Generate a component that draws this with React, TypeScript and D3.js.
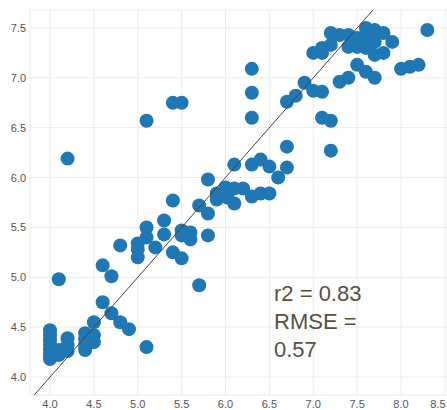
import React from 'react';
import * as d3 from 'd3';

const observed = [
  4.0, 4.0, 4.0, 4.0, 4.0, 4.0, 4.0,
  4.1, 4.1, 4.1,
  4.2, 4.2, 4.2, 4.2,
  4.4, 4.4, 4.4, 4.4,
  4.5, 4.5, 4.5,
  4.6, 4.6, 4.7, 4.7, 4.8, 4.8, 4.9,
  5.0, 5.0, 5.0,
  5.1, 5.1, 5.1, 5.1,
  5.2, 5.3, 5.3,
  5.4, 5.4, 5.4,
  5.5, 5.5, 5.5, 5.5,
  5.6, 5.6, 5.7, 5.7,
  5.8, 5.8, 5.8, 5.9, 5.9,
  6.0, 6.02,
  6.1, 6.1, 6.1, 6.2,
  6.3, 6.3, 6.3, 6.3, 6.3,
  6.4, 6.4, 6.5, 6.5, 6.6,
  6.7, 6.7, 6.7, 6.8, 6.9,
  7.0, 7.0,
  7.1, 7.1, 7.1, 7.1,
  7.2, 7.2, 7.2, 7.2,
  7.3, 7.3,
  7.4, 7.4, 7.4,
  7.5, 7.5, 7.5,
  7.6, 7.6, 7.6, 7.6,
  7.7, 7.7, 7.7, 7.7,
  7.8, 7.8, 7.9,
  8.0, 8.1, 8.2, 8.3,
];
const predicted = [
  4.47, 4.42, 4.37, 4.32, 4.27, 4.22, 4.18,
  4.22, 4.27, 4.98,
  4.39, 4.32, 4.26, 6.19,
  4.44, 4.38, 4.32, 4.27,
  4.42, 4.35, 4.55,
  4.75, 5.12, 4.64, 5.01, 4.55, 5.32, 4.48,
  5.34, 5.28, 5.2,
  5.5, 5.4, 4.3, 6.57,
  5.3, 5.57, 5.43,
  5.25, 5.77, 6.75,
  5.19, 5.47, 5.42, 6.75,
  5.45, 5.38, 4.92, 5.72,
  5.64, 5.42, 5.98, 5.84, 5.78,
  5.9, 5.8,
  5.89, 5.74, 6.13, 5.89,
  5.81, 6.13, 6.6, 6.85, 7.09,
  5.84, 6.18, 5.84, 6.11, 6.0,
  6.1, 6.31, 6.76, 6.82, 6.95,
  6.87, 7.25,
  6.86, 6.6, 7.3, 7.25,
  6.57, 6.27, 7.45, 7.33,
  6.96, 7.43,
  7.0, 7.43, 7.31,
  7.13, 7.4, 7.31,
  7.06, 7.5, 7.38, 7.3,
  7.0, 7.48, 7.36, 7.23,
  7.45, 7.25, 7.36,
  7.09, 7.11, 7.13, 7.48,
];
const xTicks = [4.0, 4.5, 5.0, 5.5, 6.0, 6.5, 7.0, 7.5, 8.0, 8.5];
const yTicks = [4.0, 4.5, 5.0, 5.5, 6.0, 6.5, 7.0, 7.5];
const statLines = ['r2 = 0.83', 'RMSE =', '0.57'];

const width = 447;
const height = 410;
const plot = { left: 30, right: 447, top: 10, bottom: 395 };

const App = () => {
  const x = d3.scaleLinear().domain([3.772, 8.524]).range([plot.left, plot.right]);
  const y = d3.scaleLinear().domain([3.82, 7.68]).range([plot.bottom, plot.top]);

  const points = observed.map((o, i) => ({ o, p: predicted[i] }));
  const diag = d3.line<number>().x(d => x(d)).y(d => y(d));

  return (
    <div style={{ position: 'absolute', left: 0, top: 0 }}>
      <svg width={width} height={height} style={{ display: 'block', fontFamily: '"Liberation Sans", Arial, sans-serif' }}>
        <rect x={0} y={0} width={width} height={height} fill="#fff" />
        {/* grid */}
        <g stroke="#ececec" strokeWidth={1}>
          {xTicks.map(t => (
            <line key={'gx' + t} x1={x(t)} x2={x(t)} y1={plot.top} y2={plot.bottom} />
          ))}
          {yTicks.map(t => (
            <line key={'gy' + t} x1={plot.left} x2={plot.right} y1={y(t)} y2={y(t)} />
          ))}
          <line x1={plot.left} x2={plot.left} y1={plot.top} y2={plot.bottom} />
          <line x1={plot.left} x2={plot.right} y1={plot.top} y2={plot.top} />
          <line x1={plot.left} x2={plot.right} y1={plot.bottom} y2={plot.bottom} />
        </g>
        {/* points */}
        <g fill="#1f77b4">
          {points.map((d, i) => (
            <circle key={i} cx={x(d.o)} cy={y(d.p)} r={7} />
          ))}
        </g>
        {/* 1:1 line */}
        <path d={diag([3.82, 7.68]) || ''} stroke="#444" strokeWidth={1} fill="none" />
        {/* tick labels */}
        <g fontSize={11} fill="#555">
          {xTicks.map(t => (
            <text key={'tx' + t} x={Math.min(x(t), 438)} y={408} textAnchor="middle">
              {t.toFixed(1)}
            </text>
          ))}
          {yTicks.map(t => (
            <text key={'ty' + t} x={26} y={y(t) + 4} textAnchor="end">
              {t.toFixed(1)}
            </text>
          ))}
        </g>
        {/* stats */}
        <g fontSize={22} fill="#57503f">
          {statLines.map((s, i) => (
            <text key={s} x={274} y={301 + i * 28}>{s}</text>
          ))}
        </g>
      </svg>
    </div>
  );
};

export default App;
